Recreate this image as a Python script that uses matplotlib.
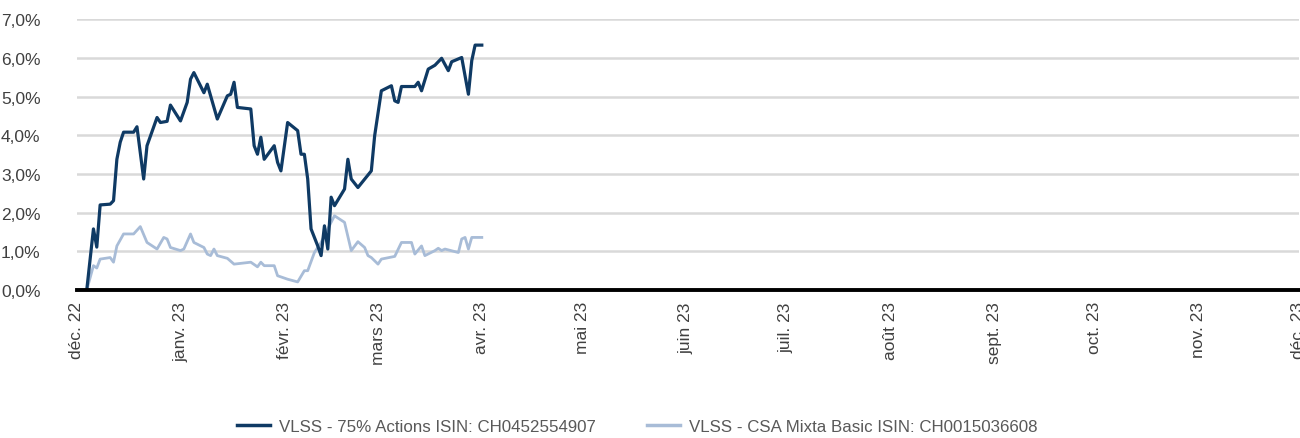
import matplotlib.pyplot as plt
import numpy as np
import pandas as pd

plt.rcParams['font.family'] = ['Liberation Sans', 'DejaVu Sans']

start = pd.Timestamp('2022-12-01')

# days since 1 Dec 2022 and performance in %
days_a = [3, 5, 6, 7, 10, 11, 12, 13, 14, 17, 18, 20, 21, 24, 25, 27, 28, 31, 33, 34,
          35, 38, 39, 42, 45, 46, 47, 48, 52, 53, 54, 55, 56, 59, 60, 61, 63, 66, 67, 68,
          69, 70, 71, 72, 73, 74, 75, 76, 77, 80, 81, 82, 84, 88, 89, 91, 94, 95, 96, 97,
          101, 102, 103, 105, 107, 109, 111, 112, 115, 117, 118, 119, 121]
vals_a = [0.0, 1.58, 1.11, 2.2, 2.22, 2.31, 3.38, 3.82, 4.08, 4.08, 4.22, 2.87, 3.73, 4.46, 4.33, 4.36, 4.78, 4.37, 4.85, 5.45,
          5.62, 5.1, 5.32, 4.42, 5.02, 5.06, 5.37, 4.72, 4.68, 3.73, 3.51, 3.95, 3.38, 3.73, 3.3, 3.08, 4.33, 4.12, 3.51, 3.51,
          2.87, 1.58, 1.36, 1.14, 0.89, 1.66, 1.06, 2.4, 2.18, 2.61, 3.38, 2.87, 2.65, 3.08, 3.99, 5.15, 5.28, 4.89, 4.85, 5.26,
          5.26, 5.37, 5.15, 5.71, 5.81, 5.99, 5.67, 5.9, 6.01, 5.06, 5.93, 6.33, 6.33]

days_b = [3, 5, 6, 7, 10, 11, 12, 14, 17, 19, 21, 24, 26, 27, 28, 31, 32, 34, 35, 38,
          39, 40, 41, 42, 45, 47, 52, 54, 55, 56, 59, 60, 63, 66, 68, 69, 71, 73, 75, 77,
          80, 82, 84, 86, 87, 88, 90, 91, 95, 97, 100, 101, 103, 104, 107, 108, 109, 110, 114, 115,
          116, 117, 118, 121]
vals_b = [0.0, 0.63, 0.57, 0.8, 0.84, 0.72, 1.14, 1.45, 1.45, 1.64, 1.23, 1.06, 1.36, 1.32, 1.1, 1.02, 1.06, 1.45, 1.23, 1.1,
          0.93, 0.89, 1.06, 0.89, 0.82, 0.67, 0.72, 0.6, 0.72, 0.63, 0.63, 0.37, 0.28, 0.21, 0.5, 0.5, 0.97, 1.23, 1.58, 1.92,
          1.75, 1.02, 1.25, 1.1, 0.89, 0.84, 0.67, 0.8, 0.87, 1.23, 1.23, 0.93, 1.14, 0.89, 1.02, 1.08, 1.02, 1.06, 0.97, 1.32,
          1.36, 1.06, 1.36, 1.36]

labels = ['VLSS - 75% Actions ISIN: CH0452554907', 'VLSS - CSA Mixta Basic ISIN: CH0015036608']
colors = ['#0F3A64', '#A8BCD7']
month_labels = ['déc. 22', 'janv. 23', 'févr. 23', 'mars 23', 'avr. 23', 'mai 23', 'juin 23',
                'juil. 23', 'août 23', 'sept. 23', 'oct. 23', 'nov. 23', 'déc. 23']
yticks = [0, 1, 2, 3, 4, 5, 6, 7]

dates_a = start + pd.to_timedelta(days_a, unit='D')
dates_b = start + pd.to_timedelta(days_b, unit='D')
months = pd.date_range('2022-12-01', periods=len(month_labels), freq='MS')

fig = plt.figure(figsize=(13, 4.39), dpi=100)
ax = fig.add_axes([0.059, 0.337, 0.94, 0.617])

ax.plot(dates_b, vals_b, color=colors[1], lw=2.0, label=labels[1], zorder=3)
ax.plot(dates_a, vals_a, color=colors[0], lw=2.3, label=labels[0], zorder=4)

ax.set_xlim(months[0], months[-1])
ax.set_ylim(0, 7)
ax.set_yticks(yticks)
ax.yaxis.set_major_formatter(plt.FuncFormatter(lambda v, p: ('%.1f%%' % v).replace('.', ',')))
ax.set_xticks(months)
ax.set_xticklabels(month_labels, rotation=90, va='top', ha='center')

ax.grid(axis='y', color='#d9d9d9', lw=1.8)
ax.set_axisbelow(True)
for s in ['top', 'right', 'left']:
    ax.spines[s].set_visible(False)
ax.spines['bottom'].set_linewidth(2.8)
ax.spines['bottom'].set_color('black')
ax.spines['bottom'].set_zorder(5)
ax.tick_params(axis='both', length=0, labelsize=12.5, colors='#404040')
ax.tick_params(axis='y', pad=26)
ax.tick_params(axis='x', pad=8)

handles, labs = ax.get_legend_handles_labels()
leg = fig.legend(handles[::-1], labs[::-1], loc='center', bbox_to_anchor=(0.49, 0.027), ncol=2,
                 frameon=False, fontsize=12.2, handlelength=2.0, handletextpad=0.5,
                 columnspacing=3.0, labelcolor='#595959')
for line in leg.get_lines():
    line.set_linewidth(2.5)

fig.savefig('out.png', dpi=100)
